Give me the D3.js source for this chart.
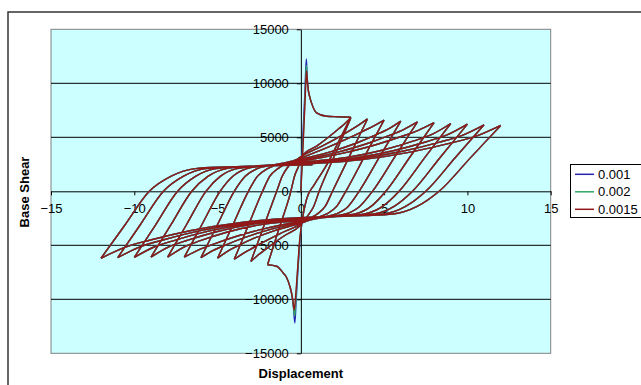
<!DOCTYPE html>
<html>
<head>
<meta charset="utf-8">
<script src="https://cdn.jsdelivr.net/npm/d3@7"></script>
<style>
  body { margin: 0; background: #fff; }
  svg text { font-family: Arial, "Liberation Sans", sans-serif; font-size: 13px; fill: #000; }
</style>
</head>
<body>
<div id="chart"></div>
<script>
const xTicks = [-15, -10, -5, 0, 5, 10, 15];
const yTicks = [-15000, -10000, -5000, 0, 5000, 10000, 15000];
const seriesNames = ['0.001', '0.002', '0.0015'];

// first push and first reversal: the only part where the three runs differ (the spikes)
const push001 = [[0,0],[0.05,2500],[0.14,5800],[0.24,9000],[0.33,12250],[0.38,10600],[0.44,9420],[0.54,8700],[0.64,8190],[0.94,7260],[1.54,6950],[2.2,6900],[3,6860]];
const push002 = [[0,0],[0.07,2500],[0.17,5800],[0.26,9000],[0.33,11650],[0.38,10400],[0.44,9420],[0.54,8700],[0.64,8190],[0.94,7260],[1.54,6950],[2.2,6900],[3,6860]];
const push0015 = [[0,0],[0.08,2500],[0.18,5800],[0.27,9000],[0.34,11150],[0.39,10200],[0.45,9400],[0.54,8700],[0.64,8190],[0.94,7260],[1.54,6950],[2.2,6900],[3,6860]];
const back001 = [[3,6860],[2.3,4700],[1.5,2300],[0.8,600],[0.35,-700],[0.1,-2500],[-0.05,-4500],[-0.18,-7500],[-0.28,-10000],[-0.36,-12200],[-0.45,-10600],[-0.55,-9500],[-0.66,-8800],[-0.85,-8000],[-1.06,-7560],[-1.46,-6940],[-2,-6800]];
const back002 = [[3,6860],[2.3,4700],[1.5,2300],[0.8,600],[0.35,-700],[0.1,-2500],[-0.06,-4500],[-0.2,-7500],[-0.3,-10000],[-0.37,-11550],[-0.46,-10400],[-0.55,-9500],[-0.66,-8800],[-0.85,-8000],[-1.06,-7560],[-1.46,-6940],[-2,-6800]];
const back0015 = [[3,6860],[2.3,4700],[1.5,2300],[0.8,600],[0.35,-700],[0.1,-2500],[-0.07,-4500],[-0.21,-7500],[-0.32,-9800],[-0.4,-11000],[-0.48,-10100],[-0.56,-9400],[-0.66,-8800],[-0.85,-8000],[-1.06,-7560],[-1.46,-6940],[-2,-6800]];

// later cycles, peak to peak, shared by the three runs
const cycleBranches = [
  [[-2,-6800],[-1.3,-3400],[-0.6,0],[-0.38,1400],[-0.14,2300],[0.1,3300],[0.97,4210],[1.695,5050],[2.275,5785],[2.65,6275],[3,6800]],
  [[3,6800],[2.05,3400],[1.1,0],[0.77,-1400],[0.4,-2300],[-0.1,-3250],[-0.97,-4095],[-1.695,-4875],[-2.275,-5558],[-2.65,-6013],[-3,-6500]],
  [[-3,-6500],[-2.23,-3250],[-1.45,0],[-1.12,1400],[-0.8,2200],[-0.35,2800],[0.1,3300],[1.27,4184],[2.25,5000],[3.03,5714],[3.53,6190],[4,6700]],
  [[4,6700],[2.95,3350],[1.9,0],[1.46,-1400],[0.98,-2100],[0.4,-2600],[-0.1,-3100],[-1.27,-3932],[-2.25,-4700],[-3.03,-5372],[-3.53,-5820],[-4,-6300]],
  [[-4,-6300],[-3.15,-3150],[-2.3,0],[-1.86,1400],[-1.38,2100],[-0.8,2600],[0.1,3150],[1.57,4047],[2.8,4875],[3.78,5600],[4.41,6083],[5,6600]],
  [[5,6600],[3.85,3300],[2.7,0],[2.15,-1400],[1.55,-2100],[0.83,-2500],[-0.1,-3000],[-1.57,-3640],[-2.8,-4344],[-3.78,-5048],[-4.41,-5560],[-5,-6200]],
  [[-5,-6200],[-4.08,-3100],[-3.15,0],[-2.6,1400],[-2.0,2100],[-1.28,2500],[0.1,3000],[1.87,3700],[3.35,4470],[4.53,5240],[5.29,5800],[6,6500]],
  [[6,6500],[4.75,3250],[3.5,0],[2.84,-1400],[2.12,-2100],[1.25,-2400],[-0.1,-2900],[-1.87,-3550],[-3.35,-4265],[-4.53,-4980],[-5.29,-5500],[-6,-6150]],
  [[-6,-6150],[-5.0,-3075],[-4.0,0],[-3.34,1400],[-2.62,2100],[-1.75,2400],[0.1,2900],[2.17,3604],[3.9,4378],[5.28,5153],[6.17,5716],[7,6420]],
  [[7,6420],[5.65,3210],[4.3,0],[3.53,-1400],[2.69,-2100],[1.68,-2350],[-0.1,-2800],[-2.17,-3460],[-3.9,-4186],[-5.28,-4912],[-6.17,-5440],[-7,-6100]],
  [[-7,-6100],[-5.93,-3050],[-4.85,0],[-4.08,1400],[-3.24,2100],[-2.23,2350],[0.1,2800],[2.47,3510],[4.45,4291],[6.03,5072],[7.05,5640],[8,6350]],
  [[8,6350],[6.55,3175],[5.1,0],[4.22,-1400],[3.26,-2100],[2.1,-2300],[-0.1,-2700],[-2.47,-3108],[-4.45,-3788],[-6.03,-4570],[-7.05,-5182],[-8,-6100]],
  [[-8,-6100],[-6.85,-3050],[-5.7,0],[-4.82,1400],[-3.86,2100],[-2.7,2300],[0.1,2700],[2.77,3130],[5.0,3846],[6.78,4669],[7.93,5313],[9,6280]],
  [[9,6280],[7.45,3140],[5.9,0],[4.91,-1400],[3.83,-2100],[2.53,-2300],[-0.1,-2600],[-2.77,-3020],[-5.0,-3720],[-6.78,-4525],[-7.93,-5155],[-9,-6100]],
  [[-9,-6100],[-7.78,-3050],[-6.55,0],[-5.56,1400],[-4.48,2100],[-3.18,2300],[0.1,2600],[3.07,3034],[5.55,3758],[7.53,4591],[8.81,5243],[10,6220]],
  [[10,6220],[8.35,3110],[6.7,0],[5.6,-1400],[4.4,-2100],[2.95,-2250],[-0.1,-2550],[-3.07,-2978],[-5.55,-3692],[-7.53,-4514],[-8.81,-5156],[-10,-6120]],
  [[-10,-6120],[-8.7,-3060],[-7.4,0],[-6.3,1400],[-5.1,2100],[-3.65,2250],[0.1,2550],[3.37,2983],[6.1,3705],[8.28,4536],[9.69,5185],[11,6160]],
  [[11,6160],[9.25,3080],[7.5,0],[6.29,-1400],[4.97,-2100],[3.38,-2250],[-0.1,-2500],[-3.37,-2938],[-6.1,-3668],[-8.28,-4508],[-9.69,-5165],[-11,-6150]],
  [[-11,-6150],[-9.63,-3075],[-8.25,0],[-7.04,1400],[-5.72,2100],[-4.13,2250],[0.1,2500],[3.67,2932],[6.65,3652],[9.03,4480],[10.57,5128],[12,6100]],
  [[12,6100],[10.15,3050],[8.3,0],[6.98,-1400],[5.54,-2100],[3.8,-2250],[-0.1,-2450],[-3.67,-2900],[-6.65,-3650],[-9.03,-4513],[-10.57,-5188],[-12,-6200]],
  [[-12,-6200],[-10.55,-3100],[-9.1,0],[-7.78,1400],[-6.34,2100],[-4.6,2250],[-2,2350],[0.7,2450]]
];

const colors = ['#2424b0', '#2fa866', '#901818'];

const runs = [
  [push001, back001],
  [push002, back002],
  [push0015, back0015]
].map((lead, i) => ({ name: seriesNames[i], color: colors[i], branches: lead.concat(cycleBranches) }));

const plot = { left: 51, top: 29.3, right: 550.7, bottom: 353.3 };

const svg = d3.select('#chart').append('svg')
  .attr('width', 641)
  .attr('height', 385);

// outer chart frame (runs off the right and bottom of the picture)
svg.append('path')
  .attr('d', 'M8,385V12H641')
  .attr('fill', 'none')
  .attr('stroke', '#333')
  .attr('stroke-width', 1.5);

const x_scale = d3.scaleLinear().domain([-15, 15]).range([plot.left, plot.right]);
const y_scale = d3.scaleLinear().domain([-15000, 15000]).range([plot.bottom, plot.top]);

svg.append('rect')
  .attr('x', plot.left)
  .attr('y', plot.top)
  .attr('width', plot.right - plot.left)
  .attr('height', plot.bottom - plot.top)
  .attr('fill', '#ccffff')
  .attr('stroke', '#808080')
  .attr('stroke-width', 1);

svg.append('g')
  .attr('class', 'grid')
  .selectAll('line')
  .data(yTicks.filter(v => v !== 0 && Math.abs(v) < 15000))
  .enter()
  .append('line')
  .attr('x1', plot.left)
  .attr('x2', plot.right)
  .attr('y1', d => y_scale(d))
  .attr('y2', d => y_scale(d))
  .attr('stroke', '#000')
  .attr('stroke-width', 1);

const xAxis = svg.append('g')
  .attr('transform', 'translate(0,' + y_scale(0) + ')')
  .call(d3.axisBottom(x_scale).tickValues(xTicks).tickFormat(d3.format('d'))
    .tickSize(4).tickSizeOuter(0).tickPadding(8.7));

const yAxis = svg.append('g')
  .attr('transform', 'translate(' + x_scale(0) + ',0)')
  .call(d3.axisLeft(y_scale).tickValues(yTicks).tickFormat(d3.format('d'))
    .tickSize(4).tickSizeOuter(0).tickPadding(8));

[xAxis, yAxis].forEach(g => {
  g.selectAll('path, line').attr('stroke', '#000');
  g.selectAll('text').attr('font-size', 13).attr('font-family', 'Arial, "Liberation Sans", sans-serif');
});

const line = d3.line()
  .x(d => x_scale(d[0]))
  .y(d => y_scale(d[1]))
  .curve(d3.curveMonotoneX);

svg.append('g')
  .attr('class', 'series')
  .selectAll('path')
  .data(runs)
  .enter()
  .append('path')
  .attr('d', d => d.branches.map(b => line(b)).join(''))
  .attr('fill', 'none')
  .attr('stroke', d => d.color)
  .attr('stroke-width', 1.4)
  .attr('stroke-linejoin', 'round');

svg.append('text')
  .attr('x', (plot.left + plot.right) / 2)
  .attr('y', 378)
  .attr('text-anchor', 'middle')
  .attr('font-weight', 'bold')
  .text('Displacement');

svg.append('text')
  .attr('transform', 'translate(24,192) rotate(-90)')
  .attr('text-anchor', 'middle')
  .attr('dominant-baseline', 'central')
  .attr('font-weight', 'bold')
  .text('Base Shear');

const legend = svg.append('g').attr('class', 'legend');

legend.append('rect')
  .attr('x', 570.5)
  .attr('y', 164.5)
  .attr('width', 72)
  .attr('height', 53)
  .attr('fill', '#fff')
  .attr('stroke', '#000');

const rows = legend.selectAll('.row')
  .data(runs)
  .enter()
  .append('g')
  .attr('class', 'row')
  .attr('transform', (d, i) => 'translate(0,' + (174.3 + i * 17.5) + ')');

rows.append('line')
  .attr('x1', 575)
  .attr('x2', 594)
  .attr('stroke', d => d.color)
  .attr('stroke-width', 1.5);

rows.append('text')
  .attr('x', 598)
  .attr('y', 4.6)
  .text(d => d.name);
</script>
</body>
</html>
